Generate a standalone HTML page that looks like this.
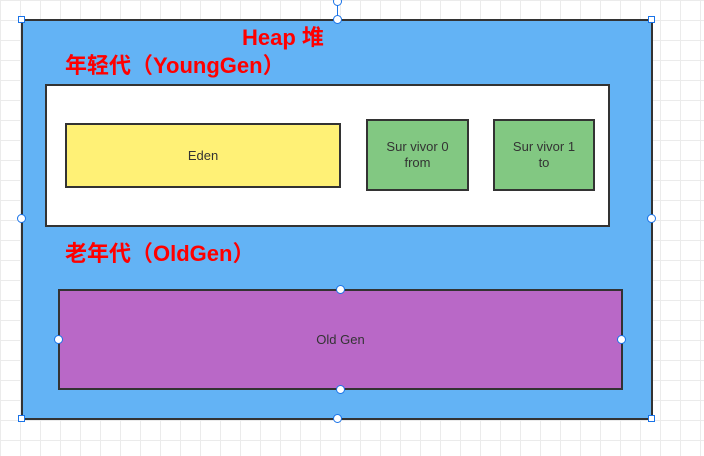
<!DOCTYPE html>
<html><head><style>
body{margin:0;width:704px;height:456px;overflow:hidden;background-color:#fff;
background-image:linear-gradient(#ebebeb 1px,transparent 1px),linear-gradient(90deg,#ebebeb 1px,transparent 1px);
background-size:20px 20px;background-position:0 0;position:relative;font-family:"Liberation Sans","Noto Sans CJK SC",sans-serif}
.b{position:absolute;box-sizing:border-box;border:2px solid #333;display:flex;align-items:center;justify-content:center;text-align:center;font-size:13px;color:#333;line-height:16px}
.t{position:absolute;color:#f00;font-weight:bold;font-size:22px;white-space:nowrap}
.h{position:absolute;width:7px;height:7px;background:#fff;border:1px solid #1a73e8;box-sizing:border-box}
.c{position:absolute;width:9px;height:9px;background:#fff;border:1px solid #1a73e8;border-radius:50%;box-sizing:border-box}
</style></head><body>
<div class="b" style="left:21px;top:19px;width:632px;height:401px;background:#63b3f5"></div>
<div class="t" style="left:242px;top:20px">Heap 堆</div>
<div class="t" style="left:65px;top:48px">年轻代（YoungGen）</div>
<div class="b" style="left:45px;top:84px;width:565px;height:143px;background:#fff"></div>
<div class="b" style="left:65px;top:123px;width:276px;height:65px;background:#fff176">Eden</div>
<div class="b" style="left:366px;top:119px;width:103px;height:72px;background:#82c882">Sur vivor 0<br>from</div>
<div class="b" style="left:493px;top:119px;width:102px;height:72px;background:#82c882">Sur vivor 1<br>to</div>
<div class="t" style="left:65px;top:236px">老年代（OldGen）</div>
<div class="b" style="left:58px;top:289px;width:565px;height:101px;background:#b968c7">Old Gen</div>
<div style="position:absolute;left:337px;top:3px;width:1px;height:17px;background:#1a73e8"></div>
<div class="c" style="left:333px;top:-3px"></div>
<div class="h" style="left:18px;top:16px"></div><div class="h" style="left:648px;top:16px"></div>
<div class="h" style="left:18px;top:415px"></div><div class="h" style="left:648px;top:415px"></div>
<div class="c" style="left:333px;top:15px"></div><div class="c" style="left:333px;top:414px"></div>
<div class="c" style="left:17px;top:214px"></div><div class="c" style="left:647px;top:214px"></div>
<div class="c" style="left:336px;top:285px"></div><div class="c" style="left:336px;top:385px"></div>
<div class="c" style="left:54px;top:335px"></div><div class="c" style="left:617px;top:335px"></div>
</body></html>
